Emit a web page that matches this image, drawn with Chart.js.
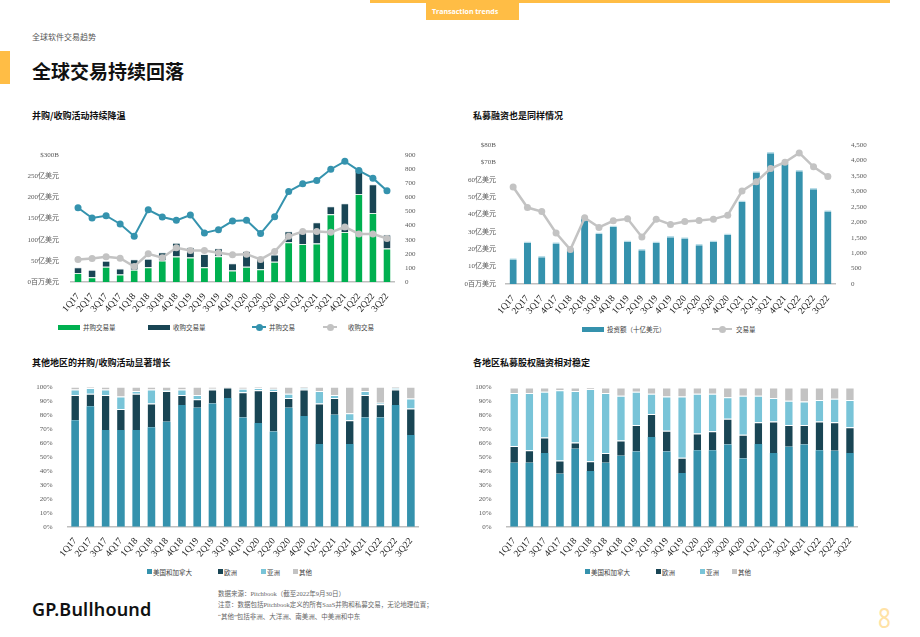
<!DOCTYPE html>
<html>
<head>
<meta charset="utf-8">
<script src="https://cdn.jsdelivr.net/npm/chart.js@4.4.0/dist/chart.umd.min.js"></script>
<style>
  body { margin: 0; width: 920px; height: 637px; background: #fff; position: relative; overflow: hidden;
         font-family: 'Noto Sans CJK SC', 'Noto Sans', sans-serif; }
  .abs { position: absolute; white-space: nowrap; }
  .ttl { font-size: 9px; font-weight: bold; color: #111; line-height: 1; }
  .lg { position: absolute; font-size: 6.5px; color: #404040; line-height: 1; white-space: nowrap; }
  .sw { position: absolute; }
  .ln { position: absolute; height: 2px; }
  .dot { position: absolute; width: 7px; height: 7px; border-radius: 50%; }
  .foot { font-family: 'Liberation Serif', 'Noto Sans CJK SC', serif; font-size: 6.5px; color: #666; line-height: 1; }
  canvas { position: absolute; }
</style>
</head>
<body>
<!-- 顶部装饰 -->
<div class="abs" style="left:370px;top:0;width:520px;height:3px;background:#ffbd45"></div>
<div class="abs" style="left:426px;top:3px;width:93px;height:17px;background:#ffbd45;color:#fff;font:bold 7px 'Open Sans',sans-serif;line-height:17px;padding-left:6px;box-sizing:border-box">Transaction trends</div>
<div class="abs" style="left:0;top:51px;width:10px;height:33px;background:#ffbd45"></div>
<div class="abs" style="left:32px;top:33px;font-size:8px;color:#555;line-height:1">全球软件交易趋势</div>
<div class="abs" style="left:32px;top:61px;font-size:19px;font-weight:bold;color:#111;line-height:1">全球交易持续回落</div>

<div class="abs ttl" style="left:32px;top:111px">并购/收购活动持续降温</div>
<div class="abs ttl" style="left:473px;top:111px">私募融资也是同样情况</div>
<div class="abs ttl" style="left:32px;top:358px">其他地区的并购/收购活动显著增长</div>
<div class="abs ttl" style="left:473px;top:358px">各地区私募股权融资相对稳定</div>

<canvas id="maChart" width="400" height="170" style="left:20px;top:143px"></canvas>
<canvas id="peChart" width="410" height="190" style="left:460px;top:130px"></canvas>
<canvas id="maRegionChart" width="410" height="185" style="left:20px;top:375px"></canvas>
<canvas id="peRegionChart" width="410" height="185" style="left:460px;top:375px"></canvas>

<!-- 图例 -->
<div class="sw" style="left:58px;top:325px;width:22px;height:5px;background:#00b050"></div>
<div class="lg" style="left:83px;top:324px">并购交易量</div>
<div class="sw" style="left:148px;top:325px;width:22px;height:5px;background:#194554"></div>
<div class="lg" style="left:173px;top:324px">收购交易量</div>
<div class="ln" style="left:252px;top:326px;width:14px;background:#3593ae"></div>
<div class="dot" style="left:255.5px;top:323.5px;background:#3593ae"></div>
<div class="lg" style="left:269px;top:324px">并购交易</div>
<div class="ln" style="left:323px;top:326px;width:14px;background:#c3c3c3"></div>
<div class="dot" style="left:326.5px;top:323.5px;background:#c3c3c3"></div>
<div class="lg" style="left:348px;top:324px">收购交易</div>

<div class="sw" style="left:582px;top:327px;width:22px;height:5px;background:#3592ad"></div>
<div class="lg" style="left:607px;top:326px">投资额（十亿美元）</div>
<div class="ln" style="left:712px;top:328px;width:20px;background:#c3c3c3"></div>
<div class="dot" style="left:718.5px;top:325.5px;background:#c3c3c3"></div>
<div class="lg" style="left:736px;top:326px">交易量</div>

<div class="sw" style="left:147px;top:569px;width:5px;height:5px;background:#3592ad"></div>
<div class="lg" style="left:153px;top:568.5px">美国和加拿大</div>
<div class="sw" style="left:218px;top:569px;width:5px;height:5px;background:#194554"></div>
<div class="lg" style="left:224px;top:568.5px">欧洲</div>
<div class="sw" style="left:261px;top:569px;width:5px;height:5px;background:#79c4d8"></div>
<div class="lg" style="left:267px;top:568.5px">亚洲</div>
<div class="sw" style="left:293px;top:569px;width:5px;height:5px;background:#c3c3c3"></div>
<div class="lg" style="left:299px;top:568.5px">其他</div>

<div class="sw" style="left:585px;top:569px;width:5px;height:5px;background:#3592ad"></div>
<div class="lg" style="left:591px;top:568.5px">美国和加拿大</div>
<div class="sw" style="left:656px;top:569px;width:5px;height:5px;background:#194554"></div>
<div class="lg" style="left:662px;top:568.5px">欧洲</div>
<div class="sw" style="left:700px;top:569px;width:5px;height:5px;background:#79c4d8"></div>
<div class="lg" style="left:706px;top:568.5px">亚洲</div>
<div class="sw" style="left:732px;top:569px;width:5px;height:5px;background:#c3c3c3"></div>
<div class="lg" style="left:738px;top:568.5px">其他</div>

<!-- 页脚 -->
<div class="abs" style="left:32px;top:600px;font:600 18px 'Noto Sans',sans-serif;color:#111;line-height:1;letter-spacing:0.2px">GP.Bullhound</div>
<div class="abs foot" style="left:218px;top:591px">数据来源：Pitchbook（截至2022年9月30日）</div>
<div class="abs foot" style="left:218px;top:602px">注意：数据包括Pitchbook定义的所有SaaS并购和私募交易，无论地理位置；</div>
<div class="abs foot" style="left:218px;top:614px">“其他”包括非洲、大洋洲、南美洲、中美洲和中东</div>
<div class="abs" style="left:878px;top:603px;font:28px 'Noto Sans',sans-serif;color:#ffe2a6;line-height:1;transform:scaleX(0.8);transform-origin:left top">8</div>

<script>
const quarters = ['1Q17','2Q17','3Q17','4Q17','1Q18','2Q18','3Q18','4Q18','1Q19','2Q19','3Q19','4Q19',
                  '1Q20','2Q20','3Q20','4Q20','1Q21','2Q21','3Q21','4Q21','1Q22','2Q22','3Q22'];

// 并购/收购：交易额（十亿美元，左轴）和交易数（右轴）
const maVolume  = [21, 11, 36, 18, 29, 35, 51, 60, 58, 35, 61, 27, 36, 30, 48, 94, 90, 91, 160, 118, 208, 163, 79];
const acqVolume = [14, 18, 14, 14, 25, 20, 19, 33, 24, 31, 19, 17, 37, 30, 17, 26, 28, 50, 19, 68, 58, 68, 33];
const maDeals   = [526, 454, 470, 411, 324, 512, 461, 437, 475, 348, 371, 432, 437, 343, 463, 642, 696, 719, 799, 855, 790, 736, 646];
const acqDeals  = [160, 167, 179, 169, 110, 200, 172, 242, 223, 223, 207, 193, 197, 160, 216, 324, 357, 357, 352, 390, 341, 341, 308];
const maLeftTicks = ['0百万美元', '50亿美元', '100亿美元', '150亿美元', '200亿美元', '250亿美元', '$300B'];

// 私募融资：投资额（十亿美元）和交易量
const peInvest = [14.8, 24.4, 16.1, 24.0, 20.7, 38.4, 29.6, 33.6, 25.1, 20.2, 24.4, 27.6, 26.9, 23.0, 25.0, 29.0, 48.0, 64.9, 76.0, 70.0, 65.6, 55.3, 42.4];
const peDeals  = [3139, 2475, 2346, 1650, 1114, 2143, 1832, 2046, 2111, 1521, 2100, 1929, 2025, 2057, 2100, 2229, 3011, 3311, 3739, 3943, 4243, 3793, 3482];
const peLeftTicks = ['0百万美元', '10亿美元', '20亿美元', '30亿美元', '40亿美元', '50亿美元', '60亿美元', '$70B', '$80B'];

// 各地区占比（%）
const regionNames = ['美国和加拿大', '欧洲', '亚洲', '其他'];
const maUs    = [76, 86, 69, 69, 69, 71, 75, 87, 85, 88, 92, 78, 74, 68, 85, 79, 59, 80, 59, 78, 78, 87, 65.5];
const maEu    = [18, 9, 25, 15, 26, 17, 22, 7, 6, 10, 7.5, 18, 23.5, 29, 7, 19, 29, 12, 17, 16, 9.5, 11, 19];
const maAsia  = [4, 4, 4, 9, 2, 10, 0.5, 4, 3, 0.5, 0, 2.5, 1.5, 1.5, 3, 1, 9, 2, 5, 3, 1, 1, 7];
const maOther = [2, 1, 2, 7, 3, 2, 2.5, 2, 6, 1.5, 0.5, 1.5, 1, 1.5, 5, 1, 3, 6, 19, 3, 11.5, 1, 8.5];

const peUs    = [46, 46, 53, 38, 56, 40, 46, 51, 54, 64.5, 54, 38.5, 55, 55, 59, 49, 59.5, 53, 57.5, 59, 55, 54.5, 53];
const peEu    = [12, 9, 11, 9.5, 4.5, 7, 7, 11, 19, 16.5, 15, 11, 12, 13.5, 18.5, 17, 15.5, 22.5, 15.5, 14, 20.5, 20.5, 18.5];
const peAsia  = [38, 41, 33, 50.5, 37, 52, 43, 32, 24, 14.5, 24.5, 44, 28.5, 27, 15.5, 28, 19, 17, 17.5, 17, 15.5, 17, 19.5];
const peOther = [4, 4, 3, 2, 2.5, 1, 4, 6, 3, 4.5, 6.5, 6.5, 4.5, 4.5, 7, 6, 6, 7.5, 9.5, 10, 9, 8, 9];

const green = '#00b050', dark = '#194554', blue = '#3592ad', lightBlue = '#79c4d8', gray = '#c3c3c3';
const serif = "'Liberation Serif', 'Noto Sans CJK SC', serif";

function xAxis(height) {
  return {
    stacked: true,
    grid: { display: false },
    border: { color: '#bfbfbf', width: 1.5 },
    ticks: { color: '#262626', font: { family: serif, size: 9.5 }, minRotation: 50, maxRotation: 50, autoSkip: false, padding: 1 },
    afterFit: s => { s.height = height; }
  };
}

function yAxis(opts) {
  return {
    position: opts.position || 'left',
    stacked: !!opts.stacked,
    min: 0, max: opts.max,
    grid: { display: false },
    border: { display: false },
    ticks: { stepSize: opts.step, color: '#595959', font: { family: serif, size: 7 }, padding: opts.pad, callback: opts.cb },
    afterFit: s => { s.width = opts.width; }
  };
}

const base = {
  responsive: false,
  animation: false,
  plugins: { legend: { display: false }, tooltip: { enabled: false } },
  datasets: { bar: { barPercentage: 0.5, categoryPercentage: 1 } }
};

// 并购/收购活动
new Chart(document.getElementById('maChart'), {
  type: 'bar',
  data: {
    labels: quarters,
    datasets: [
      { type: 'line', label: '并购交易', data: maDeals, yAxisID: 'y1', borderColor: '#3593ae', backgroundColor: '#3593ae',
        borderWidth: 2, pointRadius: 3.5, pointBorderWidth: 0, order: 0 },
      { type: 'line', label: '收购交易', data: acqDeals, yAxisID: 'y1', borderColor: gray, backgroundColor: gray,
        borderWidth: 2.5, pointRadius: 3.5, pointBorderWidth: 0, order: 1 },
      { label: '并购交易量', data: maVolume, backgroundColor: green, borderColor: '#dff0e6', borderWidth: { top: 1 }, order: 2 },
      { label: '收购交易量', data: acqVolume, backgroundColor: dark, borderColor: '#e8eef0', borderWidth: { top: 1 }, order: 2 }
    ]
  },
  options: Object.assign({}, base, {
    layout: { padding: { top: 12, left: 0, right: 0, bottom: 0 } },
    scales: {
      x: xAxis(31),
      y: yAxis({ stacked: true, max: 300, step: 50, width: 51, pad: 4, cb: (v, i) => maLeftTicks[i] }),
      y1: yAxis({ position: 'right', max: 900, step: 100, width: 26, pad: 3 })
    }
  })
});

// 私募融资
new Chart(document.getElementById('peChart'), {
  type: 'bar',
  data: {
    labels: quarters,
    datasets: [
      { type: 'line', label: '交易量', data: peDeals, yAxisID: 'y1', borderColor: gray, backgroundColor: gray,
        borderWidth: 2.5, pointRadius: 3.5, pointBorderWidth: 0, order: 0 },
      { label: '投资额（十亿美元）', data: peInvest, backgroundColor: blue, borderColor: '#b9dde8', borderWidth: { top: 1.5 }, order: 1 }
    ]
  },
  options: Object.assign({}, base, {
    layout: { padding: { top: 15, left: 0, right: 0, bottom: 0 } },
    scales: {
      x: xAxis(36),
      y: yAxis({ max: 80, step: 10, width: 46, pad: 2, cb: (v, i) => peLeftTicks[i] }),
      y1: yAxis({ position: 'right', max: 4500, step: 500, width: 35, pad: 8, cb: v => v.toLocaleString('en-US') })
    }
  })
});

function regionChart(id, series, padRight, padTop, yWidth) {
  const colors = [blue, dark, lightBlue, gray];
  new Chart(document.getElementById(id), {
    type: 'bar',
    data: {
      labels: quarters,
      datasets: series.map((d, i) => ({
        label: regionNames[i], data: d, backgroundColor: colors[i],
        borderColor: 'rgba(255,255,255,0.75)', borderWidth: { top: i ? 1 : 0, bottom: 0, left: 0, right: 0 }
      }))
    },
    options: Object.assign({}, base, {
      layout: { padding: { top: padTop, left: 0, right: padRight, bottom: 0 } },
      scales: {
        x: xAxis(33.3),
        y: yAxis({ stacked: true, max: 100, step: 10, width: yWidth, pad: 7, cb: v => v + '%' })
      }
    })
  });
}

regionChart('maRegionChart', [maUs, maEu, maAsia, maOther], 11.5, 11.7, 47.5);
regionChart('peRegionChart', [peUs, peEu, peAsia, peOther], 12.4, 12.5, 46.5);
</script>
</body>
</html>
